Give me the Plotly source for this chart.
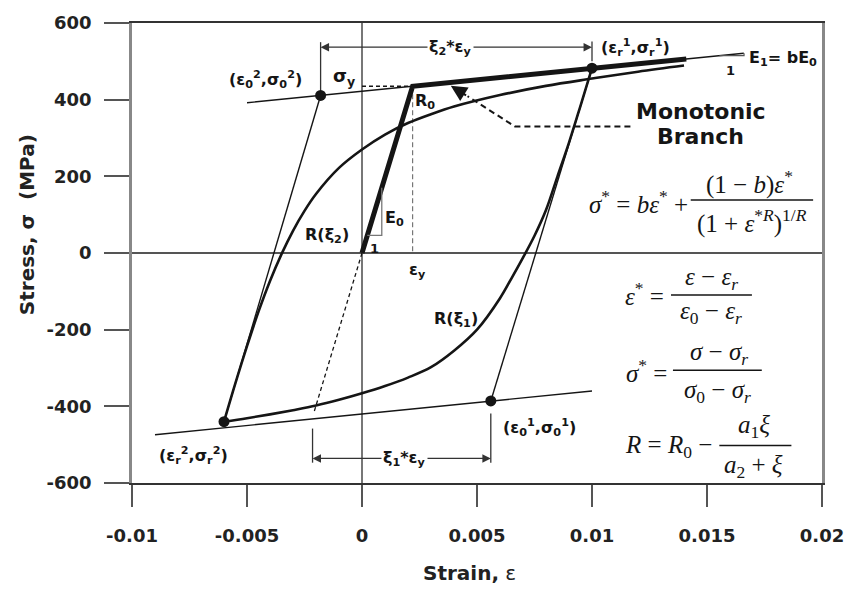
import plotly.graph_objects as go

# ---------------- data ----------------
# monotonic (virgin) branch: origin -> yield -> hardening
mono_eps = [0.0, 0.0022, 0.0141]
mono_sig = [0, 435, 506]

# asymptotes (slope E1 = b*E0)
upper_asym_eps = [-0.0050, 0.0166]
upper_asym_sig = [392, 521]
lower_asym_eps = [-0.0090, 0.0100]
lower_asym_sig = [-474, -360]

# elastic (E0) straight lines
unload1_eps = [0.0100, 0.0056]
unload1_sig = [482, -386]
reload2_eps = [-0.0060, -0.0018]
reload2_sig = [-440, 411]
elastic_ext_eps = [0.0, -0.0021]
elastic_ext_sig = [0, -418]

# yield guides
yield_h_eps = [0.0, 0.0022]
yield_h_sig = [435, 435]
yield_v_eps = [0.0022, 0.0022]
yield_v_sig = [435, 0]

# first reversal curve R(xi1)
r_xi1_eps = [0.0100, 0.0095, 0.0090, 0.0085, 0.0080, 0.0075, 0.0070, 0.0065, 0.0060,
             0.0050, 0.0040, 0.0030, 0.0020, 0.0010, 0.0000, -0.0010, -0.0020,
             -0.0030, -0.0040, -0.0050, -0.0060]
r_xi1_sig = [482, 384, 288, 200, 112, 45, -12, -66, -118,
             -200, -255, -298, -325, -347, -366, -383, -398,
             -410, -421, -431, -440]

# second reversal curve R(xi2)
r_xi2_eps = [-0.0060, -0.0055, -0.0050, -0.0045, -0.0040, -0.0035, -0.0030, -0.0025,
             -0.0020, -0.0010, 0.0000, 0.0010, 0.0020, 0.0030, 0.0040, 0.0060,
             0.0080, 0.0100, 0.0120, 0.0140]
r_xi2_sig = [-440, -339, -243, -153, -73, -3, 58, 110,
             154, 222, 270, 309, 339, 362, 382, 412,
             436, 455, 473, 489]

# marked points: (e0^2,s0^2), (er^1,sr^1), (e0^1,s0^1), (er^2,sr^2)
key_eps = [-0.0018, 0.0100, 0.0056, -0.0060]
key_sig = [411, 482, -386, -440]

# slope triangles
e0_tri_eps = [0.00023, 0.00086, 0.00086]
e0_tri_sig = [46, 46, 170]
e1_tri_eps = [0.01554, 0.01661, 0.01661]
e1_tri_sig = [515, 515, 521]

# "Monotonic Branch" pointer path
pointer_eps = [0.01167, 0.00665, 0.00459]
pointer_sig = [330, 330, 409]
pointer_tip = (0.00386, 436)

# bracket dimensions
xi1_left, xi1_right, xi1_level = -0.00215, 0.0056, -536
xi1_bar_left_sig = [-458, -547]
xi1_bar_right_sig = [-419, -547]
xi2_left, xi2_right, xi2_level = -0.0018, 0.0100, 537
xi2_bar_left_sig = [550, 420]
xi2_bar_right_sig = [552, 500]

x_tickvals = [-0.01, -0.005, 0, 0.005, 0.01, 0.015, 0.02]
x_ticktext = ["-0.01", "-0.005", "0", "0.005", "0.01", "0.015", "0.02"]
y_tickvals = [-600, -400, -200, 0, 200, 400, 600]
y_ticktext = ["-600", "-400", "-200", "0", "200", "400", "600"]

# ---------------- figure ----------------
W, H = 856, 590
ML, MR, MT, MB = 132, 25, 18, 107
PW, PH = W - ML - MR, H - MT - MB


def fx(p):
    return (p - ML) / PW


def fy(p):
    return (H - MB - p) / PH


INK = "#151515"
fig = go.Figure()


def line(x, y, width, color=INK, dash="solid", shape="linear"):
    fig.add_trace(go.Scatter(x=x, y=y, mode="lines", hoverinfo="skip",
                             line=dict(color=color, width=width, dash=dash, shape=shape)))


line(upper_asym_eps, upper_asym_sig, 1.4)
line(lower_asym_eps, lower_asym_sig, 1.4)
line(unload1_eps, unload1_sig, 1.4)
line(reload2_eps, reload2_sig, 1.4)
line(elastic_ext_eps, elastic_ext_sig, 1.3, dash="4px,3px")
line(yield_h_eps, yield_h_sig, 1.5, dash="4px,3px")
line(yield_v_eps, yield_v_sig, 1.2, color="#777", dash="5px,3px")
line(r_xi1_eps, r_xi1_sig, 2.6, shape="spline")
line(r_xi2_eps, r_xi2_sig, 2.6, shape="spline")
line(mono_eps, mono_sig, 5)
line(e0_tri_eps, e0_tri_sig, 1.3, color="#777")
line(e1_tri_eps, e1_tri_sig, 1.2, color="#555")
line(pointer_eps, pointer_sig, 2, dash="6px,4px")
line([xi1_left, xi1_left], xi1_bar_left_sig, 1.3, color="#333")
line([xi1_right, xi1_right], xi1_bar_right_sig, 1.3, color="#333")
line([xi2_left, xi2_left], xi2_bar_left_sig, 1.3, color="#333")
line([xi2_right, xi2_right], xi2_bar_right_sig, 1.3, color="#333")

fig.add_trace(go.Scatter(x=key_eps, y=key_sig, mode="markers", hoverinfo="skip",
                         marker=dict(color=INK, size=11)))

annotations = []
# arrows of the bracket dimensions
for tip, tail, lev in [(xi1_left, 0.0012, xi1_level), (xi1_right, 0.0025, xi1_level),
                       (xi2_left, 0.0035, xi2_level), (xi2_right, 0.0042, xi2_level)]:
    annotations.append(dict(x=tip, y=lev, ax=tail, ay=lev, xref="x", yref="y",
                            axref="x", ayref="y", showarrow=True, arrowhead=2,
                            arrowsize=1.3, arrowwidth=1.3, arrowcolor="#333", text=""))
annotations.append(dict(x=pointer_tip[0], y=pointer_tip[1], ax=pointer_eps[-1], ay=pointer_sig[-1],
                        xref="x", yref="y", axref="x", ayref="y", showarrow=True,
                        arrowhead=2, arrowsize=1.6, arrowwidth=2, arrowcolor=INK, text=""))

BOLD = dict(family="DejaVu Sans", size=16, color=INK, weight="bold")
SERIF = dict(family="Liberation Serif", size=25, color=INK)


def txt(t, x, y, font=BOLD, xa="center", ya="middle", **kw):
    d = dict(text=t, x=fx(x), y=fy(y), xref="paper", yref="paper", showarrow=False,
             xanchor=xa, yanchor=ya, font=font)
    d.update(kw)
    annotations.append(d)


txt("ξ<sub>1</sub>*ε<sub>y</sub>", 408, 458, bgcolor="white")
txt("ξ<sub>2</sub>*ε<sub>y</sub>", 455, 43, bgcolor="white")
txt("(ε<sub>0</sub><sup>2</sup>,σ<sub>0</sub><sup>2</sup>)", 267, 75)
txt("σ<sub>y</sub>", 347, 73, font=dict(BOLD, size=18))
txt("(ε<sub>r</sub><sup>1</sup>,σ<sub>r</sub><sup>1</sup>)", 642, 43)
txt("E<sub>1</sub>= bE<sub>0</sub>", 755, 54, xa="left")
txt("1", 738, 66, font=dict(BOLD, size=13))
txt("R<sub>0</sub>", 429, 97)
txt("E<sub>0</sub>", 398, 216)
txt("1", 378, 246, font=dict(BOLD, size=13))
txt("ε<sub>y</sub>", 421, 268)
txt("R(ξ<sub>2</sub>)", 330, 233)
txt("R(ξ<sub>1</sub>)", 460, 318)
txt("(ε<sub>r</sub><sup>2</sup>,σ<sub>r</sub><sup>2</sup>)", 194, 455)
txt("(ε<sub>0</sub><sup>1</sup>,σ<sub>0</sub><sup>1</sup>)", 545, 427)
txt("Monotonic", 708, 107, font=dict(BOLD, size=22))
txt("Branch", 708, 133, font=dict(BOLD, size=22))

# equations
txt("<i>σ</i><sup>*</sup> = <i>bε</i><sup>*</sup> +", 697, 199, font=SERIF, xa="right")
txt("(1 − <i>b</i>)<i>ε</i><sup>*</sup>", 758, 179, font=SERIF)
txt("(1 + <i>ε</i><sup>*<i>R</i></sup>)<sup>1/<i>R</i></sup>", 760, 219, font=SERIF)
txt("<i>ε</i><sup>*</sup> =", 673, 292, font=SERIF, xa="right")
txt("<i>ε</i> − <i>ε</i><sub><i>r</i></sub>", 719, 276, font=SERIF)
txt("<i>ε</i><sub>0</sub> − <i>ε</i><sub><i>r</i></sub>", 719, 311, font=SERIF)
txt("<i>σ</i><sup>*</sup> =", 676, 370, font=SERIF, xa="right")
txt("<i>σ</i> − <i>σ</i><sub><i>r</i></sub>", 727, 352, font=SERIF)
txt("<i>σ</i><sub>0</sub> − <i>σ</i><sub><i>r</i></sub>", 725, 390, font=SERIF)
txt("<i>R</i> = <i>R</i><sub>0</sub> −", 722, 446, font=SERIF, xa="right")
txt("<i>a</i><sub>1</sub><i>ξ</i>", 762, 426, font=SERIF)
txt("<i>a</i><sub>2</sub> + <i>ξ</i>", 762, 466, font=SERIF)

# axis titles
txt("<b>Strain,</b> ε", 474, 574, font=dict(family="DejaVu Sans", size=20, color="#222"))
txt("<b>Stress, σ  (MPa)</b>", 25, 222, font=dict(family="DejaVu Sans", size=20, color="#222"),
    textangle=-90)

shapes = []
for x0, x1, y in [(698, 822, 197), (678, 760, 293), (680, 770, 369), (727, 800, 445)]:
    shapes.append(dict(type="line", xref="paper", yref="paper", x0=fx(x0), x1=fx(x1),
                       y0=fy(y), y1=fy(y), line=dict(color=INK, width=1.5)))

fig.update_layout(
    width=W, height=H, margin=dict(l=ML, r=MR, t=MT, b=MB),
    plot_bgcolor="white", paper_bgcolor="white", showlegend=False,
    annotations=annotations, shapes=shapes,
    xaxis=dict(range=[-0.01, 0.02], tickvals=x_tickvals, ticktext=x_ticktext,
               showgrid=False, zeroline=True, zerolinecolor="#777", zerolinewidth=2,
               showline=True, linecolor="#333", linewidth=1.5, mirror=True,
               ticks="outside", ticklen=22, tickwidth=2, tickcolor="#555",
               ticklabelstandoff=14,
               tickfont=dict(family="DejaVu Sans", size=18, color="#222", weight="bold")),
    yaxis=dict(range=[-600, 600], tickvals=y_tickvals, ticktext=y_ticktext,
               showgrid=False, zeroline=True, zerolinecolor="#555", zerolinewidth=1.5,
               showline=True, linecolor="#888", linewidth=2.5, mirror=True,
               ticks="outside", ticklen=25, tickwidth=2, tickcolor="#555",
               ticklabelstandoff=9,
               tickfont=dict(family="DejaVu Sans", size=18, color="#222", weight="bold")),
)

fig.write_html("out.html")
